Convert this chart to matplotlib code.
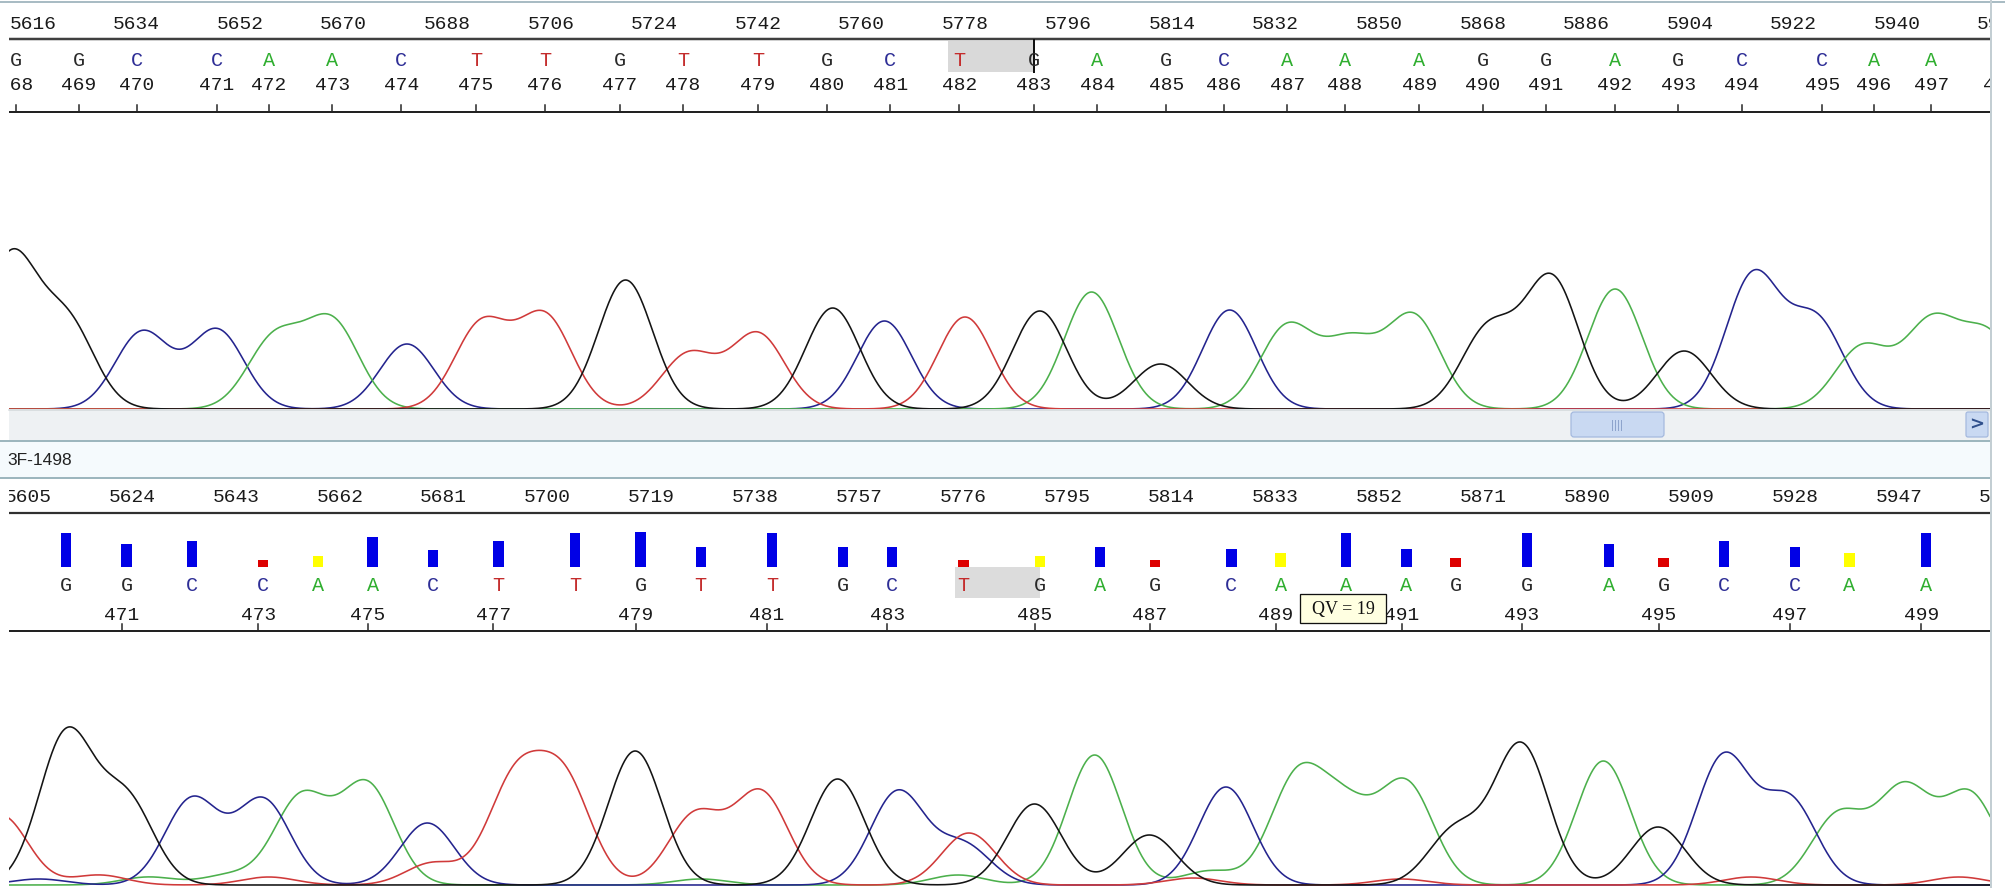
import numpy as np
import matplotlib
matplotlib.use("Agg")
import matplotlib.pyplot as plt
from matplotlib.patches import Rectangle, FancyBboxPatch

W, H = 2005, 888

# ---------------- data ----------------
# upper trace (reference): base calls
top_bases = list("GGCCAACTTGTTGCTGAGCAAAGGAGCCAA")
top_pos = list(range(468, 499))            # 468..498 (498 only as number)
top_scan = [5613, 5624, 5634, 5648, 5657, 5668, 5680, 5693, 5705, 5718, 5729,
            5742, 5754, 5765, 5777, 5790, 5801, 5813, 5823, 5834, 5844, 5857,
            5868, 5879, 5891, 5902, 5913, 5927, 5936, 5946, 5958]
top_scan_labels = [5598, 5616, 5634, 5652, 5670, 5688, 5706, 5724, 5742, 5760,
                   5778, 5796, 5814, 5832, 5850, 5868, 5886, 5904, 5922, 5940, 5958]

# upper trace peaks (scan centre, height) per dye
top_G_c = [5612, 5622, 5719, 5755, 5791, 5812, 5869, 5880, 5903]
top_G_h = [150, 85, 129, 101, 98, 45, 80, 130, 58]
top_A_c = [5658, 5668, 5800, 5834, 5845, 5856, 5891, 5934, 5946, 5956]
top_A_h = [70, 86, 117, 82, 65, 92, 120, 62, 85, 72]
top_C_c = [5635, 5648, 5681, 5764, 5824, 5915, 5926]
top_C_h = [77, 79, 65, 88, 99, 133, 88]
top_T_c = [5694, 5705, 5730, 5742, 5778]
top_T_h = [85, 92, 55, 75, 92]

# lower trace (3F-1498): base calls and quality values
bot_bases = list("GGCCAACTTGTTGCTGAGCAAAGGAGCCAA")
bot_pos = list(range(470, 500))
bot_scan = [5612, 5623, 5635, 5648, 5658, 5668, 5679, 5691, 5705, 5717, 5728,
            5741, 5754, 5763, 5776, 5790, 5801, 5811, 5825, 5834, 5846, 5857,
            5866, 5879, 5894, 5904, 5915, 5928, 5938, 5952]
bot_qv = [46, 31, 35, 10, 15, 40, 23, 35, 46, 47, 27, 46, 27, 27, 10, 15, 27,
          10, 24, 19, 46, 24, 12, 46, 31, 12, 35, 27, 19, 46]
bot_scan_labels = [5605, 5624, 5643, 5662, 5681, 5700, 5719, 5738, 5757, 5776,
                   5795, 5814, 5833, 5852, 5871, 5890, 5909, 5928, 5947, 5966]

bot_G_c = [5612, 5623, 5716, 5753, 5789, 5810, 5866, 5878, 5903]
bot_G_h = [150, 85, 134, 106, 81, 50, 55, 140, 58]
bot_A_c = [5627, 5642, 5655, 5667, 5728, 5775, 5800, 5821, 5837, 5846, 5857,
           5893, 5936, 5948, 5960]
bot_A_h = [8, 10, 88, 100, 6, 10, 130, 14, 105, 70, 100, 124, 70, 95, 90]
bot_C_c = [5607, 5635, 5648, 5678, 5764, 5776, 5824, 5915, 5927]
bot_C_h = [6, 86, 85, 62, 93, 40, 98, 128, 85]
bot_T_c = [5600, 5618, 5649, 5679, 5694, 5703, 5727, 5739, 5777, 5818, 5856,
           5920, 5958]
bot_T_h = [70, 10, 8, 22, 102, 102, 70, 92, 52, 7, 6, 8, 8]

tooltip_text = "QV = 19"
sample_name = "3F-1498"

# ---------------- style ----------------
TRACE_COL = {"G": "#141414", "A": "#4cb04c", "C": "#24248e", "T": "#d03a3a"}
BASE_COL = {"G": "#2a2a2a", "A": "#2fae2f", "C": "#2e2e96", "T": "#c42c2c"}
MONO = "Liberation Mono"
PX = 0.72  # points per pixel


def lw(px):
    return px * PX


fig = plt.figure(figsize=(W / 100, H / 100), dpi=100)
fig.patch.set_facecolor("white")


def add_ax(x0, y0, x1, y1, z=1):
    a = fig.add_axes([x0 / W, 1 - y1 / H, (x1 - x0) / W, (y1 - y0) / H], zorder=z)
    a.set_axis_off()
    return a


def trace(ax, x, cs, hs, sig, col):
    y = np.zeros_like(x)
    for c, h in zip(cs, hs):
        y += h * np.exp(-0.5 * ((x - c) / sig) ** 2)
    ax.plot(x, y, color=col, lw=lw(1.6), solid_joinstyle="round")


PL, PR = 9, 1990
top_px_per_scan = 5.753
bot_px_per_scan = 5.47
top_xlim = (5616 - (33 - PL) / top_px_per_scan, 5616 + (PR - 33) / top_px_per_scan)
bot_xlim = (5605 - (28 - PL) / bot_px_per_scan, 5605 + (PR - 28) / bot_px_per_scan)

# ---------------- background chrome ----------------
bg = add_ax(0, 0, W, H, z=0)
bg.set_xlim(0, W)
bg.set_ylim(H, 0)
bg.plot([0, W], [2, 2], color="#a9bcc4", lw=lw(2))
# scrollbar
bg.add_patch(Rectangle((PL, 409), PR - PL, 31, facecolor="#eef1f3", edgecolor="none"))
bg.plot([PL, PR], [409.5, 409.5], color="#d3d8db", lw=lw(1.5))
bg.add_patch(FancyBboxPatch((1571, 412), 93, 25, boxstyle="round,pad=0,rounding_size=3",
                            facecolor="#c9d9f2", edgecolor="#a3b8de", lw=lw(1.2)))
for gx in [1612, 1615, 1618, 1621]:
    bg.plot([gx, gx], [420, 430], color="#8ea4cc", lw=lw(1))
bg.add_patch(FancyBboxPatch((1966, 412), 22, 25, boxstyle="round,pad=0,rounding_size=2",
                            facecolor="#c9d9f2", edgecolor="#a3b8de", lw=lw(1.2)))
bg.text(1977, 425, ">", ha="center", va="center", fontsize=13, fontweight="bold",
        color="#30508c", family="DejaVu Sans")
# band with sample name
bg.add_patch(Rectangle((0, 441), PR, 37, facecolor="#f5fafd", edgecolor="none"))
bg.plot([0, PR], [441, 441], color="#9db6be", lw=lw(2))
bg.plot([0, PR], [478, 478], color="#9db6be", lw=lw(2))
bg.text(7, 460, sample_name, ha="left", va="center", fontsize=12.5,
        family="Liberation Sans", color="#222222")
bg.plot([PR + 1, PR + 1], [0, H], color="#c3ced3", lw=lw(2))

# ---------------- upper panel ----------------
th = add_ax(PL, 4, PR, 114, z=1)
th.set_xlim(*top_xlim)
th.set_ylim(114, 4)
for s in top_scan_labels:
    th.text(s, 24, str(s), ha="center", va="center", fontsize=14, family=MONO,
            color="#1a1a1a", clip_on=True)
th.plot(top_xlim, [39, 39], color="#404040", lw=lw(2.5))
hi = top_pos.index(482)
th.add_patch(Rectangle((top_scan[hi] - 2, 41), top_scan[hi + 1] - top_scan[hi] + 2, 31,
                       facecolor="#d9d9d9", edgecolor="none"))
th.plot([top_scan[hi + 1]] * 2, [40, 72], color="#111111", lw=lw(2))
for b, s in zip(top_bases, top_scan):
    th.text(s, 60, b, ha="center", va="center", fontsize=14.5, family=MONO,
            color=BASE_COL[b], clip_on=True)
for p, s in zip(top_pos, top_scan):
    th.text(s, 86, str(p), ha="center", va="center", fontsize=14, family=MONO,
            color="#1a1a1a", clip_on=True)
    th.plot([s, s], [105, 112], color="#222222", lw=lw(1.5))
th.plot(top_xlim, [112, 112], color="#222222", lw=lw(2))

tt = add_ax(PL, 113, PR, 409, z=1)
tt.set_xlim(*top_xlim)
tt.set_ylim(0, 296)
xt = np.linspace(top_xlim[0], top_xlim[1], 3000)
sig_t = 27 / top_px_per_scan
trace(tt, xt, top_C_c, top_C_h, sig_t, TRACE_COL["C"])
trace(tt, xt, top_A_c, top_A_h, sig_t, TRACE_COL["A"])
trace(tt, xt, top_T_c, top_T_h, sig_t, TRACE_COL["T"])
trace(tt, xt, top_G_c, top_G_h, sig_t, TRACE_COL["G"])

# ---------------- lower panel ----------------
bh = add_ax(PL, 479, PR, 633, z=1)
bh.set_xlim(*bot_xlim)
bh.set_ylim(633, 479)
for s in bot_scan_labels:
    bh.text(s, 497, str(s), ha="center", va="center", fontsize=14, family=MONO,
            color="#1a1a1a", clip_on=True)
bh.plot(bot_xlim, [513, 513], color="#303030", lw=lw(2.2))
hi = bot_pos.index(484)
bh.add_patch(Rectangle((bot_scan[hi] - 1.5, 567), bot_scan[hi + 1] - bot_scan[hi] + 1.5, 31,
                       facecolor="#dcdcdc", edgecolor="none"))
for b, s in zip(bot_bases, bot_scan):
    bh.text(s, 585, b, ha="center", va="center", fontsize=14.5, family=MONO,
            color=BASE_COL[b], clip_on=True)
for p, s in zip(bot_pos, bot_scan):
    if p % 2 == 1:
        bh.text(s - 0.9, 615, str(p), ha="center", va="center", fontsize=14,
                family=MONO, color="#1a1a1a", clip_on=True)
        bh.plot([s - 0.9] * 2, [624, 631], color="#222222", lw=lw(1.5))
bh.plot(bot_xlim, [631, 631], color="#222222", lw=lw(2))

bq = add_ax(PL, 519, PR, 567, z=2)
bq.set_xlim(*bot_xlim)
bq.set_ylim(0, 48 / 0.74)
qcol = ["#0000e6" if q >= 20 else ("#ffff00" if q >= 15 else "#dd0000") for q in bot_qv]
bq.bar(bot_scan, bot_qv, width=1.9, color=qcol, edgecolor="none")

bt = add_ax(PL, 633, PR, 888, z=1)
bt.set_xlim(*bot_xlim)
bt.set_ylim(-3, 252)
xb = np.linspace(bot_xlim[0], bot_xlim[1], 3000)
sig_b = 27 / bot_px_per_scan
trace(bt, xb, bot_A_c, bot_A_h, sig_b, TRACE_COL["A"])
trace(bt, xb, bot_C_c, bot_C_h, sig_b, TRACE_COL["C"])
trace(bt, xb, bot_T_c, bot_T_h, sig_b, TRACE_COL["T"])
trace(bt, xb, bot_G_c, bot_G_h, sig_b, TRACE_COL["G"])

# ---------------- tooltip overlay ----------------
ov = add_ax(0, 0, W, H, z=10)
ov.set_xlim(0, W)
ov.set_ylim(H, 0)
ov.add_patch(Rectangle((1300, 594), 86, 29, facecolor="#ffffe1", edgecolor="#111111",
                       lw=lw(1.3)))
ov.text(1343, 609, tooltip_text, ha="center", va="center", fontsize=13,
        family="Liberation Serif", color="#111111")

fig.savefig("out.png", dpi=100, facecolor="white")
